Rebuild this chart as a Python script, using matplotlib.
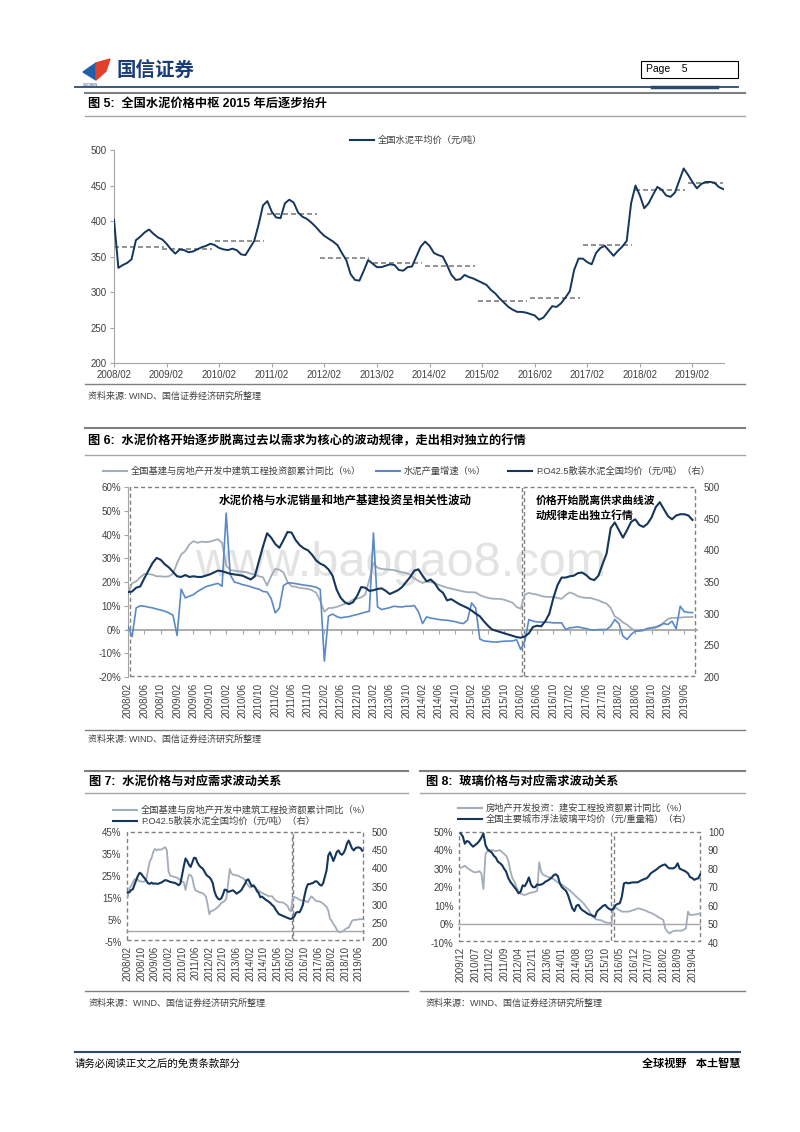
# plot.py
# Research-report page: cement price charts (fig 5-8), rebuilt with matplotlib.

import numpy as np
import pandas as pd
import matplotlib
matplotlib.use('Agg')
import matplotlib.pyplot as plt
from matplotlib.lines import Line2D
from matplotlib.patches import Rectangle, Polygon

# ---- data -------------------------------------------------------------
# fig 5: national average cement price, monthly from 2008/02
price_avg = [402, 334, 338, 341, 346, 373, 378, 384, 388, 382,
             377, 374, 368, 360, 354, 360, 359, 356, 357, 360,
             363, 365, 368, 366, 362, 360, 359, 361, 359, 353,
             352, 362, 372, 395, 422, 428, 413, 405, 404, 425,
             430, 426, 412, 406, 403, 398, 392, 385, 379, 375,
             371, 366, 355, 345, 325, 317, 316, 330, 345, 340,
             335, 335, 337, 339, 338, 331, 330, 335, 336, 350,
             364, 371, 365, 355, 352, 350, 338, 324, 317, 318,
             324, 321, 319, 316, 313, 310, 303, 298, 291, 285,
             279, 275, 272, 272, 271, 269, 267, 261, 264, 272,
             280, 279, 284, 292, 301, 331, 347, 347, 342, 339,
             355, 362, 365, 358, 351, 358, 364, 372, 425, 450,
             436, 418, 425, 437, 448, 444, 436, 434, 440, 457,
             474, 465, 455, 446, 452, 455, 455, 454, 448, 445]
avg_years = [2008, 2009, 2010, 2011, 2012, 2013, 2014, 2015, 2016, 2017, 2018, 2019]
avg_levels = [363, 361, 372, 410, 348, 341, 336, 287.5, 291, 365.5, 443, 453]

# fig 6 / fig 7: monthly from 2008/02
invest_yoy = [15.4, 19.4, 20.3, 22.0, 23.4, 23.3, 23.1, 22.4, 22.4, 22.2,
              22.4, 23.5, 28.0, 31.6, 33.0, 35.8, 37.2, 36.5, 37.0, 36.8,
              37.0, 37.5, 38.0, 36.5, 27.0, 25.0, 24.8, 24.5, 24.3, 24.1,
              23.5, 23.0, 22.4, 22.0, 18.5, 22.5, 25.5, 25.2, 24.0, 20.0,
              18.2, 18.0, 17.5, 17.3, 17.1, 16.5, 15.5, 12.0, 7.5, 9.0,
              9.1, 9.5, 10.1, 10.8, 11.5, 12.6, 13.0, 13.5, 14.7, 21.0,
              28.0, 26.0, 25.5, 25.3, 25.2, 25.0, 24.5, 24.1, 23.8, 23.0,
              21.5, 20.5, 19.6, 20.2, 20.0, 19.5, 18.8, 18.2, 17.6, 17.2,
              16.8, 16.4, 16.0, 15.7, 15.7, 15.6, 14.5, 13.8, 13.3, 13.0,
              12.9, 12.9, 12.5, 11.9, 11.3, 9.5, 8.7, 14.7, 15.4, 15.0,
              14.7, 14.1, 13.8, 13.7, 13.7, 13.3, 12.9, 14.5, 15.6, 15.0,
              14.0, 13.5, 13.3, 13.3, 12.8, 12.3, 11.5, 10.9, 9.1, 5.5,
              4.5, 3.0, 2.0, 0.5, -0.5, -0.7, -0.4, 0.0, 0.7, 1.2,
              1.4, 3.0, 4.5, 4.9, 4.9, 5.0, 5.2, 5.2, 5.3]
cement_output = [1.4, -3.0, 9.1, 10.0, 9.8, 9.4, 9.1, 8.6, 8.2, 7.7,
                 7.0, 6.0, -2.5, 17.0, 13.3, 14.0, 14.7, 16.0, 17.0, 18.0,
                 18.5, 19.0, 19.4, 18.2, 49.0, 23.0, 20.0, 19.5, 18.9, 18.5,
                 18.0, 17.4, 17.0, 16.0, 15.8, 13.0, 7.0, 9.0, 18.5, 19.6,
                 19.6, 19.3, 19.0, 18.7, 18.5, 18.2, 17.8, 16.8, -13.3, 5.6,
                 6.5, 5.5, 4.9, 5.2, 5.4, 5.9, 6.3, 6.8, 7.3, 7.7,
                 40.7, 9.5, 8.4, 8.8, 9.2, 9.8, 9.6, 9.5, 9.8, 9.8,
                 10.1, 7.5, 2.5, 5.3, 4.8, 4.5, 4.2, 4.0, 3.9, 3.6,
                 3.3, 2.8, 2.5, 4.0, 11.2, 9.0, -4.0, -4.8, -5.0, -5.2,
                 -5.3, -5.1, -4.9, -4.9, -4.8, -4.3, -8.4, -5.0, 4.2, 3.5,
                 3.2, 3.1, 3.1, 3.0, 2.8, 2.8, 2.8, 0.0, 0.7, 0.9,
                 1.1, 0.7, 0.4, -0.1, -0.3, 0.0, 0.0, 0.0, 1.4, 4.2,
                 2.5, -2.8, -4.2, -2.1, -0.7, -0.5, -0.3, 0.5, 0.7, 0.8,
                 1.8, 2.5, 2.1, 3.5, 0.3, 9.8, 7.5, 7.2, 7.1]
po425_price = [334, 335, 341, 343, 356, 368, 380, 388, 385, 378,
               373, 366, 359, 358, 361, 358, 359, 358, 358, 360,
               362, 365, 368, 367, 365, 363, 362, 361, 360, 357,
               354, 359, 383, 406, 427, 420, 410, 404, 416, 429,
               428, 416, 408, 403, 400, 393, 384, 379, 376, 370,
               360, 338, 325, 318, 315, 318, 328, 342, 341, 336,
               337, 339, 340, 336, 331, 334, 337, 342, 350, 358,
               368, 370, 360, 351, 354, 348, 338, 333, 321, 323,
               319, 315, 312, 309, 305, 300, 296, 288, 281, 275,
               273, 271, 269, 267, 265, 263, 262, 264, 269, 279,
               281, 280, 288, 300, 325, 345, 357, 357, 359, 360,
               364, 365, 361, 355, 353, 360, 378, 395, 435, 444,
               432, 420, 432, 445, 449, 440, 437, 442, 452, 468,
               476, 465, 454, 449, 455, 457, 457, 455, 448]

# fig 8: monthly from 2009/12
estate_yoy = [30.5, 31, 31.6, 30.5, 29.8, 29, 28.4, 28, 28.2, 28.7,
              27.5, 19, 38, 39.5, 40, 40.1, 39.8, 39.5, 39.8, 40,
              39, 38, 37, 34.5, 29, 25, 23, 20, 17.5, 16.5,
              16, 15.8, 16.2, 16.7, 17, 17.3, 17.6, 18, 33.5, 28,
              26.6, 26.2, 25.7, 25.3, 25, 24.3, 23.5, 22.6, 22, 21.5,
              20.5, 19.8, 19, 18, 17, 16, 14.8, 13.8, 12.8, 11.8,
              10.5, 9, 7.5, 5.5, 4, 3, 2.5, 2.3, 2.1, 1.5,
              1, 0.8, 0.7, 0.6, 10.4, 9, 8.2, 7.5, 6.8, 6.8,
              6.8, 6.8, 7, 7.5, 7.7, 8.2, 8.6, 8.3, 7.9, 7.6,
              7.1, 6.5, 6.2, 5.6, 5, 4.3, 3.5, 3, 2.3, -2.3,
              -4, -5, -4.2, -3.7, -3.5, -3.5, -3.5, -3.5, -3, -2.3,
              6.8, 5, 5, 5.2, 5.3, 5.5, 5.9]
glass_price = [99, 97.5, 93.5, 95, 94.5, 93, 91.9, 92.8, 93.7, 95,
               96.8, 99, 92.8, 90.5, 89.5, 88.8, 87, 86, 83.8, 83,
               82, 80, 78.4, 75, 73, 71.5, 70, 68.5, 66.7, 67.5,
               71, 70.5, 72.5, 75.3, 71.5, 70, 70, 71.5, 71.2, 71.5,
               72, 73, 73.5, 74.3, 75.1, 76.5, 77, 76, 72, 70,
               69, 68, 65.5, 62, 58.6, 57.1, 60, 60.5, 58.6, 57.5,
               56.8, 56, 55.3, 55, 54.5, 54, 57, 58, 59, 60,
               60.4, 59, 58.2, 57.7, 58.5, 60.4, 61, 61.3, 64.9, 72,
               72.5, 72.1, 72.3, 72.6, 72.6, 72.6, 72.8, 73.5, 74, 74.5,
               74.8, 76, 77.5, 78.3, 79, 79.8, 80.8, 81.5, 82, 82.3,
               81, 80.2, 80.2, 80.2, 81, 82.9, 80, 79.5, 79, 78.4,
               77.5, 75.5, 75, 74, 74.5, 74.8, 77]

# ---- style ------------------------------------------------------------
W, H = 800, 1132
NAVY = '#15365c'
GRAY = '#a3adb9'
BLUE = '#5a8ac6'
AXC = '#a6a6a6'
TXT = '#404040'
BOX = '#808080'
plt.rcParams['font.family'] = ['Liberation Sans', 'Noto Sans CJK SC']
plt.rcParams['axes.unicode_minus'] = False

fig = plt.figure(figsize=(W / 100, H / 100), dpi=100)


def fx(x):
    return x / W


def fy(y):
    return 1 - y / H


def hline(x0, x1, y, color, lw):
    fig.add_artist(Line2D([fx(x0), fx(x1)], [fy(y), fy(y)], color=color, lw=lw))


def ftext(x, y, s, **kw):
    kw.setdefault('va', 'center')
    fig.text(fx(x), fy(y), s, **kw)


def px_axes(x0, y0, x1, y1):
    ax = fig.add_axes([fx(x0), fy(y1), (x1 - x0) / W, (y1 - y0) / H])
    ax.patch.set_alpha(0)
    return ax


def month_labels(start, n):
    return list(pd.period_range(start, periods=n, freq='M').strftime('%Y/%m'))


def dashed_box(ax, x0, x1, y0, y1):
    ax.add_patch(Rectangle((x0, y0), x1 - x0, y1 - y0, fill=False, ec=BOX,
                           lw=1.0, ls=(0, (3, 2)), clip_on=False, zorder=1))


def legend_item(x, y, color, label, lw=1.5):
    hline(x, x + 24, y, color, lw)
    ftext(x + 28, y, label, fontsize=6.7, color=TXT)


# ---- header -----------------------------------------------------------
fig.add_artist(Polygon([(fx(83), fy(72)), (fx(96), fy(63)), (fx(96), fy(80))],
                       closed=True, color='#1f5fa8'))
fig.add_artist(Polygon([(fx(96), fy(63)), (fx(110), fy(59)), (fx(106), fy(71)), (fx(96), fy(80))],
                       closed=True, color='#e2402b'))
ftext(117, 71, '国信证券', fontsize=14, fontweight='bold', color='#1a3d7a')
ftext(83, 85, 'GUOSEN', fontsize=2.5, color='#1a3d7a')
fig.add_artist(Rectangle((fx(641), fy(78)), (738 - 641) / W, 17 / H, fill=False, ec='black', lw=0.8))
ftext(646, 69.5, 'Page    5', fontsize=7.5, color='black')
hline(75, 738, 87, '#2b4a6e', 1.3)
hline(652, 717, 87, '#2b4a6e', 2.5)

# ---- fig 5 ------------------------------------------------------------
hline(85, 745, 93, '#7f7f7f', 1.5)
ftext(88, 104, '图 5:  全国水泥价格中枢 2015 年后逐步抬升', fontsize=8.8, fontweight='bold', color='black')
hline(85, 745, 116, '#a6a6a6', 1.0)

ax5 = px_axes(114, 150, 724, 363)
m5 = np.arange(len(price_avg))
ax5.plot(m5, price_avg, color=NAVY, lw=1.4, zorder=3)
for yr, lvl in zip(avg_years, avg_levels):
    start = max(0, (yr - 2008) * 12 - 1)
    end = min(start + 11.3, m5[-1])
    ax5.hlines(lvl, start, end, colors='#7f7f7f', linestyles=(0, (3, 1.8)), lw=1.2, zorder=2)
lab5 = month_labels('2008-02', len(price_avg))
ax5.set_xticks(m5[::12], lab5[::12])
ax5.set_xlim(0, 139.2)
ax5.set_ylim(200, 500)
ax5.set_yticks(np.arange(200, 501, 50))
for s in ['top', 'right']:
    ax5.spines[s].set_visible(False)
for s in ['left', 'bottom']:
    ax5.spines[s].set_color(AXC)
    ax5.spines[s].set_linewidth(0.8)
ax5.tick_params(labelsize=7, labelcolor=TXT, color=AXC, length=3, pad=2)
legend_item(350, 140, NAVY, '全国水泥平均价（元/吨）')
hline(85, 745, 384, '#808080', 1.0)
ftext(88, 396, '资料来源: WIND、国信证券经济研究所整理', fontsize=6.5, color=TXT)

# ---- fig 6 ------------------------------------------------------------
hline(85, 745, 428, '#7f7f7f', 1.5)
ftext(88, 441, '图 6:  水泥价格开始逐步脱离过去以需求为核心的波动规律，走出相对独立的行情',
      fontsize=8.8, fontweight='bold', color='black')
hline(85, 745, 455, '#a6a6a6', 1.0)

legend_item(103, 471, GRAY, '全国基建与房地产开发中建筑工程投资额累计同比（%）')
legend_item(376, 471, BLUE, '水泥产量增速（%）')
legend_item(508, 471, NAVY, 'P.O42.5散装水泥全国均价（元/吨）（右）')

ax6 = px_axes(128, 487, 697, 677)
m6 = np.arange(len(invest_yoy))
ax6.text(0.48, 0.6, 'www.baogao8.com', transform=ax6.transAxes, ha='center', va='center',
         fontsize=35, color='#e3e3e3', zorder=0)
ax6.plot(m6, invest_yoy, color=GRAY, lw=1.3, zorder=3)
ax6.plot(m6, cement_output, color=BLUE, lw=1.2, zorder=4)
ax6.set_xlim(0, 139.1)
ax6.set_ylim(-20, 60)
ax6.set_yticks(np.arange(-20, 61, 10), [f'{v}%' for v in range(-20, 61, 10)])
ax6.spines['bottom'].set_position(('data', 0))
ax6.spines['bottom'].set_color(AXC)
ax6.spines['bottom'].set_linewidth(1.3)
ax6.spines['left'].set_color(AXC)
ax6.spines['left'].set_linewidth(0.8)
for s in ['top', 'right']:
    ax6.spines[s].set_visible(False)
lab6 = month_labels('2008-02', len(invest_yoy))
ax6.set_xticks(m6[::4])
ax6.tick_params(axis='x', length=3, color=AXC, labelbottom=False)
ax6.tick_params(axis='y', labelsize=7, labelcolor=TXT, color=AXC, length=3, pad=2)
sec6 = ax6.secondary_xaxis(0)
sec6.set_xticks(m6[::4], lab6[::4])
sec6.tick_params(length=0, labelsize=7, labelcolor=TXT, labelrotation=90, pad=4)
sec6.spines['bottom'].set_visible(False)
dashed_box(ax6, 0.5, 96.3, -19.7, 59.8)
dashed_box(ax6, 96.8, 138.6, -19.7, 59.8)

ax6r = ax6.twinx()
ax6r.plot(m6, po425_price, color=NAVY, lw=1.5, zorder=5)
ax6r.set_ylim(200, 500)
ax6r.set_yticks(np.arange(200, 501, 50))
for s in ax6r.spines.values():
    s.set_visible(False)
ax6r.tick_params(labelsize=7, labelcolor=TXT, length=0, pad=5)

ftext(345, 501, '水泥价格与水泥销量和地产基建投资呈相关性波动', fontsize=8.3,
      fontweight='bold', ha='center', color='black')
ftext(536, 501, '价格开始脱离供求曲线波', fontsize=7.8, fontweight='bold', color='black')
ftext(536, 515, '动规律走出独立行情', fontsize=7.8, fontweight='bold', color='black')

hline(85, 745, 730, '#808080', 1.0)
ftext(88, 739, '资料来源: WIND、国信证券经济研究所整理', fontsize=6.5, color=TXT)

# ---- fig 7 ------------------------------------------------------------
hline(85, 408, 771, '#7f7f7f', 1.5)
ftext(89, 782, '图 7:  水泥价格与对应需求波动关系', fontsize=8.8, fontweight='bold', color='black')
hline(85, 408, 793, '#a6a6a6', 1.0)
legend_item(113, 810, GRAY, '全国基建与房地产开发中建筑工程投资额累计同比（%）')
legend_item(113, 821, NAVY, 'P.O42.5散装水泥全国均价（元/吨）（右）')

ax7 = px_axes(125.7, 831.7, 365, 941.7)
ax7.plot(m6, invest_yoy, color=GRAY, lw=1.3, zorder=3)
ax7.axhline(0, color=AXC, lw=1.0, zorder=2)
ax7.set_xlim(-1.2, 139.6)
ax7.set_ylim(-5, 45)
ax7.set_yticks(np.arange(-5, 46, 10), [f'{v}%' for v in range(-5, 46, 10)])
ax7.set_xticks(m6[::8], lab6[::8], rotation=90)
for s in ax7.spines.values():
    s.set_visible(False)
ax7.tick_params(labelsize=7, labelcolor=TXT, length=0, pad=3)
dashed_box(ax7, -0.6, 96.4, -4.4, 44.9)
dashed_box(ax7, 97.4, 138.6, -4.4, 44.9)
ax7r = ax7.twinx()
ax7r.plot(m6, po425_price, color=NAVY, lw=1.5, zorder=5)
ax7r.set_ylim(200, 500)
ax7r.set_yticks(np.arange(200, 501, 50))
for s in ax7r.spines.values():
    s.set_visible(False)
ax7r.tick_params(labelsize=7, labelcolor=TXT, length=0, pad=5)
hline(85, 408, 991, '#808080', 1.0)
ftext(89, 1003, '资料来源：WIND、国信证券经济研究所整理', fontsize=6.5, color=TXT)

# ---- fig 8 ------------------------------------------------------------
hline(420, 745, 771, '#7f7f7f', 1.5)
ftext(426, 782, '图 8:  玻璃价格与对应需求波动关系', fontsize=8.8, fontweight='bold', color='black')
hline(420, 745, 793, '#a6a6a6', 1.0)
legend_item(458, 808, GRAY, '房地产开发投资：建安工程投资额累计同比（%）')
legend_item(458, 819, NAVY, '全国主要城市浮法玻璃平均价（元/重量箱）（右）')

ax8 = px_axes(457.7, 831.7, 701, 942.7)
m8 = np.arange(len(estate_yoy))
ax8.plot(m8, estate_yoy, color=GRAY, lw=1.3, zorder=3)
ax8.axhline(0, color=AXC, lw=1.0, zorder=2)
ax8.set_xlim(-1.45, 116.3)
ax8.set_ylim(-10, 50)
ax8.set_yticks(np.arange(-10, 51, 10), [f'{v}%' for v in range(-10, 51, 10)])
lab8 = month_labels('2009-12', len(estate_yoy))
ax8.set_xticks(m8[::7], lab8[::7], rotation=90)
for s in ax8.spines.values():
    s.set_visible(False)
ax8.tick_params(labelsize=7, labelcolor=TXT, length=0, pad=3)
dashed_box(ax8, -0.8, 72.6, -9.2, 49.9)
dashed_box(ax8, 74.1, 115.7, -9.2, 49.9)
ax8r = ax8.twinx()
ax8r.plot(m8, glass_price, color=NAVY, lw=1.5, zorder=5)
ax8r.set_ylim(40, 100)
ax8r.set_yticks(np.arange(40, 101, 10))
for s in ax8r.spines.values():
    s.set_visible(False)
ax8r.tick_params(labelsize=7, labelcolor=TXT, length=0, pad=5)
hline(420, 745, 991, '#808080', 1.0)
ftext(426, 1003, '资料来源：WIND、国信证券经济研究所整理', fontsize=6.5, color=TXT)

# ---- footer -----------------------------------------------------------
hline(75, 740, 1052, '#2b4a6e', 1.5)
ftext(75, 1064, '请务必阅读正文之后的免责条款部分', fontsize=7.5, color='black')
ftext(740, 1064, '全球视野   本土智慧', fontsize=8, fontweight='bold', style='italic',
      ha='right', color='black')

fig.savefig('out.png', dpi=100)
